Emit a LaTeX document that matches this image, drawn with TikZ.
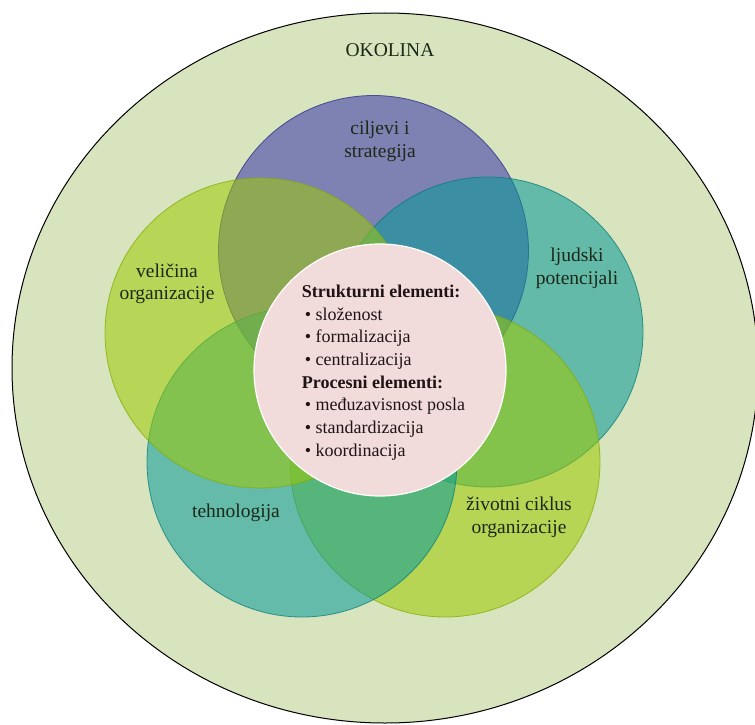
\documentclass[tikz,border=0pt]{standalone}
\usepackage{fontspec}
\setmainfont{Liberation Serif}
\definecolor{okolinafill}{RGB}{215,228,189}
\definecolor{ctop}{RGB}{53,50,169}
\definecolor{cright}{RGB}{6,152,151}
\definecolor{cbr}{RGB}{157,201,0}
\definecolor{cbl}{RGB}{6,155,155}
\definecolor{cleft}{RGB}{157,201,5}
\definecolor{pinkfill}{RGB}{242,220,219}
\definecolor{labeltext}{RGB}{28,40,24}
\definecolor{coretextcol}{RGB}{30,20,20}
\tikzset{
  venn/.style={circle, minimum size=310pt, inner sep=0pt, fill opacity=0.55, draw opacity=0.75, line width=0.8pt},
  lbl/.style={align=center, inner sep=0pt, text=labeltext, font=\fontsize{19.5}{22.5}\selectfont},
}
\begin{document}
\begin{tikzpicture}[x=1pt,y=-1pt]
\useasboundingbox (0,0) rectangle (755,725);
\clip (0,0) rectangle (755,725);
\fill[white] (0,0) rectangle (755,725);
% environment
\draw[fill=okolinafill, line width=1pt] (385,368) ellipse [x radius=373pt, y radius=355pt];
\coordinate (envc) at (385,368);
% venn circles (drawing order matters for transparency)
\node[venn, fill=ctop, draw=ctop!80!black] (ctopn) at (373.5,250.5) {};
\node[venn, fill=cright, draw=cright!80!black] (crightn) at (488,332) {};
\node[venn, fill=cbr, draw=cbr!85!black] (cbrn) at (445,462) {};
\node[venn, fill=cbl, draw=cbl!80!black] (cbln) at (302,462) {};
\node[venn, fill=cleft, draw=cleft!85!black] (cleftn) at (260,333) {};
% core circle
\node[circle, minimum size=252pt, inner sep=0pt, fill=pinkfill, draw=white, line width=1.2pt] (core) at (380,370) {};
% labels
\node[lbl] (okolina) at (390,50) {OKOLINA};
\node[lbl] (ltop) at (380,141.5) {ciljevi i\\strategija};
\node[lbl] (lleft) at (167,284) {veličina\\organizacije};
\node[lbl] (lright) at (577,268.5) {ljudski\\potencijali};
\node[lbl] (lbl) at (236,513) {tehnologija};
\node[lbl] (lbr) at (519,517.5) {životni ciklus\\organizacije};
\node[anchor=west, align=left, inner sep=0pt, text=coretextcol, font=\fontsize{18}{22.7}\selectfont] (coretext) at (301.7,372.5)
{\textbf{Strukturni elementi:}\\
\hspace*{3pt}•\ složenost\\
\hspace*{3pt}•\ formalizacija\\
\hspace*{3pt}•\ centralizacija\\
\textbf{Procesni elementi:}\\
\hspace*{3pt}•\ međuzavisnost posla\\
\hspace*{3pt}•\ standardizacija\\
\hspace*{3pt}•\ koordinacija};
\end{tikzpicture}
\end{document}
